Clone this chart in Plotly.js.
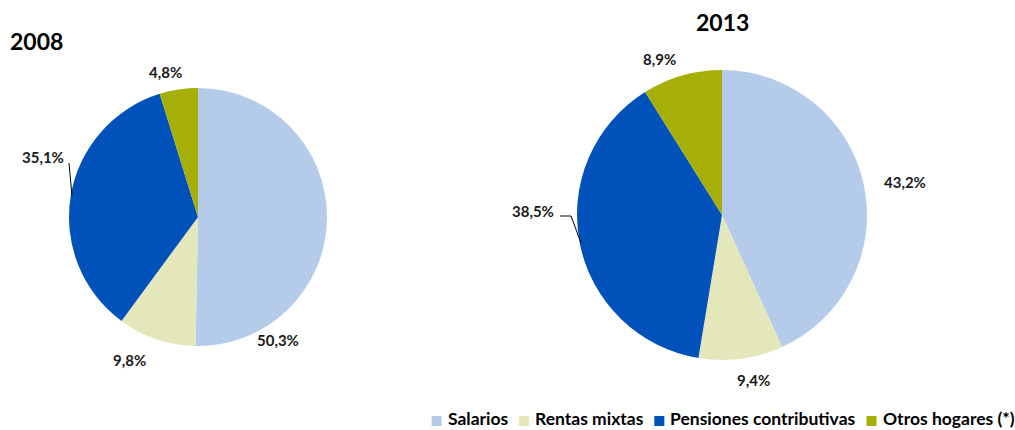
<!DOCTYPE html>
<html>
<head>
<meta charset="utf-8">
<script src="https://cdn.plot.ly/plotly-3.0.1.min.js"></script>
<style>html,body{margin:0;padding:0;background:#fff;}#chart{width:1015px;height:430px;}</style>
</head>
<body>
<div id="chart"></div>
<script>
const categories = ["Salarios", "Rentas mixtas", "Pensiones contributivas", "Otros hogares (*)"];
const values2008 = [50.3, 9.8, 35.1, 4.8];
const values2013 = [43.2, 9.4, 38.5, 8.9];
const years = ["2008", "2013"];
const colors = ["#B4CCEA", "#E3E7B9", "#0052BA", "#A5AF08"];

const W = 1015, H = 430;
const px = x => x / W;
const py = y => 1 - y / H;
const FONT = "Lato, 'Liberation Sans', sans-serif";

function fmt(v) { return v.toFixed(1).replace(".", ",") + "%"; }

function pie(values, cx, cy, r) {
  return {
    type: "pie",
    labels: categories,
    values: values,
    sort: false,
    direction: "clockwise",
    rotation: 0,
    textinfo: "none",
    hoverinfo: "label+percent",
    marker: {colors: colors, line: {width: 0}},
    domain: {x: [px(cx - r), px(cx + r)], y: [py(cy + r), py(cy - r)]},
    showlegend: false
  };
}

const data = [
  pie(values2008, 198, 217, 129),
  pie(values2013, 722, 215, 145)
];

// label placements (pixel positions) in category order
const labelPos2008 = [[278, 340], [129, 360], [43, 157], [165, 72]];
const labelPos2013 = [[905, 182], [753, 380], [533, 211], [659, 59]];

const annotations = [];
const shapes = [];
function addLabels(vals, pos) {
  vals.forEach((v, i) => {
    annotations.push({
      xref: "paper", yref: "paper", x: px(pos[i][0]), y: py(pos[i][1]),
      xanchor: "center", yanchor: "middle", showarrow: false,
      text: "<b>" + fmt(v) + "</b>",
      font: {family: FONT, size: 15, color: "#1a1a1a"}
    });
  });
}
addLabels(values2008, labelPos2008);
addLabels(values2013, labelPos2013);

annotations.push({xref: "paper", yref: "paper", x: px(36), y: py(41), xanchor: "center", yanchor: "middle",
  showarrow: false, text: "<b>" + years[0] + "</b>", font: {family: FONT, size: 23, color: "#000"}});
annotations.push({xref: "paper", yref: "paper", x: px(722), y: py(22), xanchor: "center", yanchor: "middle",
  showarrow: false, text: "<b>" + years[1] + "</b>", font: {family: FONT, size: 23, color: "#000"}});

// leader lines
shapes.push({type: "path", xref: "paper", yref: "paper",
  path: `M ${px(69)} ${py(163)} L ${px(72)} ${py(196)}`, line: {color: "#000", width: 1}});
shapes.push({type: "path", xref: "paper", yref: "paper",
  path: `M ${px(560)} ${py(216)} L ${px(571)} ${py(216)} L ${px(581)} ${py(243)}`, line: {color: "#000", width: 1}});

// custom legend, laid out right-to-left from measured text widths
const LEG_SIZE = 17.5;
const ctx = document.createElement("canvas").getContext("2d");
ctx.font = "bold " + LEG_SIZE + "px Lato";
let right = 1013;
for (let i = categories.length - 1; i >= 0; i--) {
  const w = ctx.measureText(categories[i]).width;
  const tl = right - w;
  annotations.push({xref: "paper", yref: "paper", x: px(tl), y: 0, xanchor: "left", yanchor: "bottom",
    showarrow: false, text: "<b>" + categories[i] + "</b>", font: {family: FONT, size: LEG_SIZE, color: "#000"},
    borderpad: 0});
  const sr = tl - 5, sl = sr - 10;
  shapes.push({type: "rect", xref: "paper", yref: "paper", x0: px(sl), x1: px(sr), y0: py(426), y1: py(416),
    fillcolor: colors[i], line: {width: 0}});
  right = sl - 12;
}

const layout = {
  width: W, height: H,
  margin: {l: 0, r: 0, t: 0, b: 0, autoexpand: false},
  paper_bgcolor: "#fff",
  font: {family: FONT},
  annotations: annotations,
  shapes: shapes,
  showlegend: false
};

Plotly.newPlot("chart", data, layout, {staticPlot: true, displayModeBar: false});
</script>
</body>
</html>
